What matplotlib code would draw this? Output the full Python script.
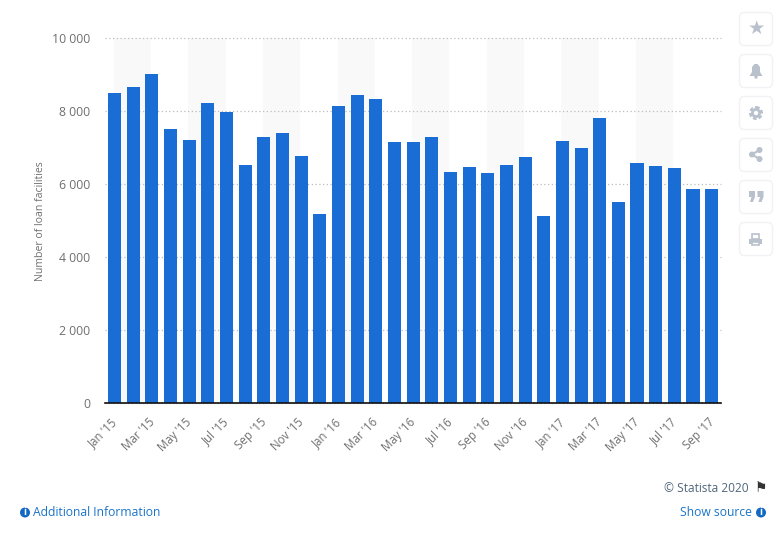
import matplotlib
matplotlib.use('Agg')
import matplotlib.pyplot as plt
from matplotlib.patches import FancyBboxPatch, Circle, Polygon, Rectangle
from matplotlib.transforms import ScaledTranslation

# chart data
months = ["Jan '15", "Feb '15", "Mar '15", "Apr '15", "May '15", "Jun '15", "Jul '15", "Aug '15", "Sep '15",
          "Oct '15", "Nov '15", "Dec '15", "Jan '16", "Feb '16", "Mar '16", "Apr '16", "May '16", "Jun '16",
          "Jul '16", "Aug '16", "Sep '16", "Oct '16", "Nov '16", "Dec '16", "Jan '17", "Feb '17", "Mar '17",
          "Apr '17", "May '17", "Jun '17", "Jul '17", "Aug '17", "Sep '17"]
facilities = [8500, 8670, 9020, 7515, 7215, 8225, 7980, 6530, 7300,
              7400, 6770, 5190, 8140, 8440, 8340, 7160, 7160, 7290,
              6340, 6470, 6310, 6530, 6750, 5130, 7190, 6990, 7820,
              5515, 6585, 6500, 6445, 5870, 5870]
y_ticks = [0, 2000, 4000, 6000, 8000, 10000]
y_tick_labels = ['0', '2 000', '4 000', '6 000', '8 000', '10 000']

W, H = 784, 541
plt.rcParams['font.family'] = ['Open Sans', 'DejaVu Sans']
fig = plt.figure(figsize=(W / 100, H / 100), dpi=100, facecolor='white')

# plot area in pixels
left, right, top, bottom = 105.2, 721, 38.3, 403.3
ax = fig.add_axes([left / W, 1 - bottom / H, (right - left) / W, (bottom - top) / H])
ax.set_xlim(-0.5, len(months) - 0.5)
ax.set_ylim(0, 10000)

# alternating bands
for i in range(0, len(months) - 2, 4):
    ax.axvspan(i - 0.05, i + 2 - 0.05, color='#f9f9f9', lw=0, zorder=0)

ax.bar(range(len(months)), facilities, width=0.7, color='#1a6dd4', zorder=3)

ax.yaxis.grid(True, linestyle=(0, (1, 2)), color='#bdbdbd', linewidth=0.9, clip_on=False)
ax.set_axisbelow(True)
for s in ['top', 'right', 'left']:
    ax.spines[s].set_visible(False)
ax.spines['bottom'].set_color('#111111')
ax.spines['bottom'].set_linewidth(1.2)
ax.spines['bottom'].set_zorder(5)

ax.set_yticks(y_ticks)
ax.set_yticklabels(y_tick_labels, fontsize=8.8, color='#6f6f6f')
ax.tick_params(axis='y', length=0, pad=11)
ax.set_xticks(range(0, len(months), 2))
ax.set_xticklabels(months[::2], rotation=45, ha='right', rotation_mode='anchor', fontsize=8.3, color='#6f6f6f')
ax.tick_params(axis='x', length=0, pad=9)
shift = ScaledTranslation(-4 / 100, 0, fig.dpi_scale_trans)
for lab in ax.get_xticklabels():
    lab.set_transform(lab.get_transform() + shift)
ax.set_ylabel('Number of loan facilities', fontsize=7.6, color='#6f6f6f', labelpad=4)

# page furniture, drawn in pixel coordinates
over = fig.add_axes([0, 0, 1, 1], zorder=10)
over.set_xlim(0, W)
over.set_ylim(H, 0)
over.axis('off')
over.patch.set_alpha(0)

blue = '#1a74c9'
icon = '#b9c1cc'


def info_icon(x, y):
    over.add_patch(Circle((x, y), 5, color='#1268c4', lw=0))
    over.text(x, y + 0.2, 'i', color='white', fontsize=7, fontweight='bold', ha='center', va='center')


info_icon(25, 512.5)
over.text(33.5, 513, 'Additional Information', color=blue, fontsize=8.72, va='center')
over.text(752, 513, 'Show source', color=blue, fontsize=8.72, va='center', ha='right')
info_icon(761, 512.5)
over.text(749, 489, '\u00a9 Statista 2020', color='#50657c', fontsize=8.6, va='center', ha='right')
over.text(760.5, 488.5, '\u2691', color='#333333', fontsize=10, va='center', ha='center', family='DejaVu Sans')

# toolbar on the right
box_y = [29, 71, 113, 155, 197, 239]
for cy in box_y:
    over.add_patch(FancyBboxPatch((739.5, cy - 16.5), 33, 33, boxstyle='round,pad=0,rounding_size=5',
                                  fc='white', ec='#f1f2f5', lw=1))

cx = 756
over.text(cx, box_y[0] - 0.5, '\u2605', color=icon, fontsize=14, ha='center', va='center', family='DejaVu Sans')
# bell
over.add_patch(Polygon([(cx - 6.5, 76), (cx - 4, 72), (cx - 4, 67), (cx - 1.5, 64), (cx + 1.5, 64),
                        (cx + 4, 67), (cx + 4, 72), (cx + 6.5, 76)], color=icon, lw=0))
over.add_patch(Circle((cx, 77), 1.7, color=icon, lw=0))
# gear
over.add_patch(Circle((cx, 113), 5.6, fc='none', ec=icon, lw=2, linestyle=(0, (1.3, 0.75))))
over.add_patch(Circle((cx, 113), 3.6, fc='none', ec=icon, lw=2))
# share
pts = [(cx + 3.5, 150), (cx - 4, 154.5), (cx + 3.5, 159)]
over.plot([p[0] for p in pts], [p[1] for p in pts], color=icon, lw=1.5)
for p in pts:
    over.add_patch(Circle(p, 3, color=icon, lw=0))
# quote
for qx in (749, 757.5):
    over.add_patch(Polygon([(qx, 191), (qx + 6, 191), (qx + 6, 197), (qx + 4, 202), (qx + 1, 202),
                            (qx + 2.5, 197), (qx, 197)], color=icon, lw=0))
# printer
over.add_patch(Rectangle((cx - 3.5, 233.5), 7, 5, fc='white', ec=icon, lw=1.2))
over.add_patch(Rectangle((cx - 6.5, 238.5), 13, 5, color=icon, lw=0))
over.add_patch(Rectangle((cx - 3.5, 241.5), 7, 3.5, fc='white', ec=icon, lw=1.2))

fig.savefig('out.png', dpi=100)
